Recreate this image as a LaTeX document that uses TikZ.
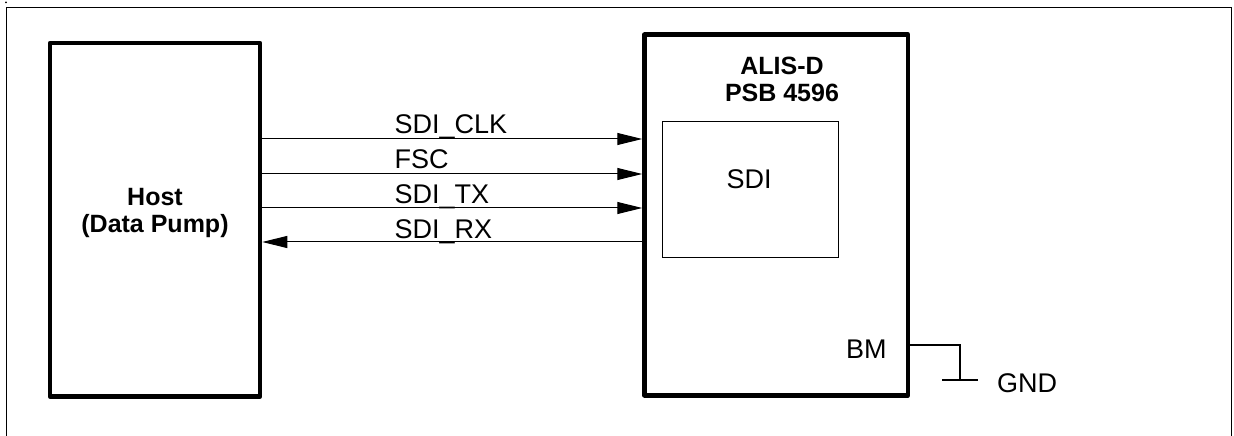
\documentclass[tikz,border=0pt]{standalone}
\usepackage{fontspec}
\setmainfont{Liberation Sans}
\usetikzlibrary{arrows.meta}
\begin{document}
\begin{tikzpicture}[x=1bp,y=-1bp,
  txt/.style={inner sep=0pt,outer sep=0pt,font=\fontsize{27bp}{30bp}\selectfont},
  btxt/.style={txt,font=\fontsize{25bp}{28bp}\selectfont\bfseries},
  thickbox/.style={draw,line width=4.5bp,inner sep=0pt,line join=round},
  thinbox/.style={draw,line width=1bp,inner sep=0pt},
  sig/.style={draw,line width=1bp,-{Triangle[length=25bp,width=12bp]}},
  wire/.style={draw,line width=1.2bp}]
\useasboundingbox (0,0) rectangle (1234,436);
% outer frame
\draw[line width=1.5bp] (6.5,436) -- (6.5,7.3) -- (1231.5,7.3) -- (1231.5,436);
\fill (6,2.5) circle (1bp);
% blocks
\node[thickbox,minimum width=210bp,minimum height=353.5bp] (host) at (155,219.75) {};
\node[thickbox,minimum width=263.5bp,minimum height=360.5bp] (alis) at (776.25,215) {};
\node[thinbox,minimum width=176bp,minimum height=136bp] (sdi) at (750,190) {};
% texts
\node[btxt,anchor=base] (hostA) at (155,206) {Host};
\node[btxt,anchor=base] (hostB) at (155,233) {(Data Pump)};
\node[btxt,anchor=base] (alisA) at (782,75) {ALIS-D};
\node[btxt,anchor=base] (alisB) at (782,102) {PSB 4596};
\node[txt,anchor=base] (sdit) at (749,188.5) {SDI};
% signals
\coordinate (y1) at (0,139);
\coordinate (y2) at (0,174);
\coordinate (y3) at (0,208);
\coordinate (y4) at (0,242);
\draw[sig] (host.east |- y1) -- (alis.west |- y1);
\draw[sig] (host.east |- y2) -- (alis.west |- y2);
\draw[sig] (host.east |- y3) -- (alis.west |- y3);
\draw[sig] (alis.west |- y4) -- (host.east |- y4);
\node[txt,anchor=base west] (l1) at (394.5,133.5) {SDI\_CLK};
\node[txt,anchor=base west] (l2) at (394.5,169) {FSC};
\node[txt,anchor=base west] (l3) at (394.5,204) {SDI\_TX};
\node[txt,anchor=base west] (l4) at (394.5,238.5) {SDI\_RX};
% BM to GND
\node[txt,anchor=base west] (bm) at (846,359) {BM};
\coordinate (g) at (960,380);
\draw[wire] (alis.east |- 0,345) -| (g);
\coordinate (gl) at (942,380);
\coordinate (gr) at (978,380);
\draw[wire] (gl) -- (gr);
\node[txt,anchor=base west] (gnd) at (997,393) {GND};
\end{tikzpicture}
\end{document}
